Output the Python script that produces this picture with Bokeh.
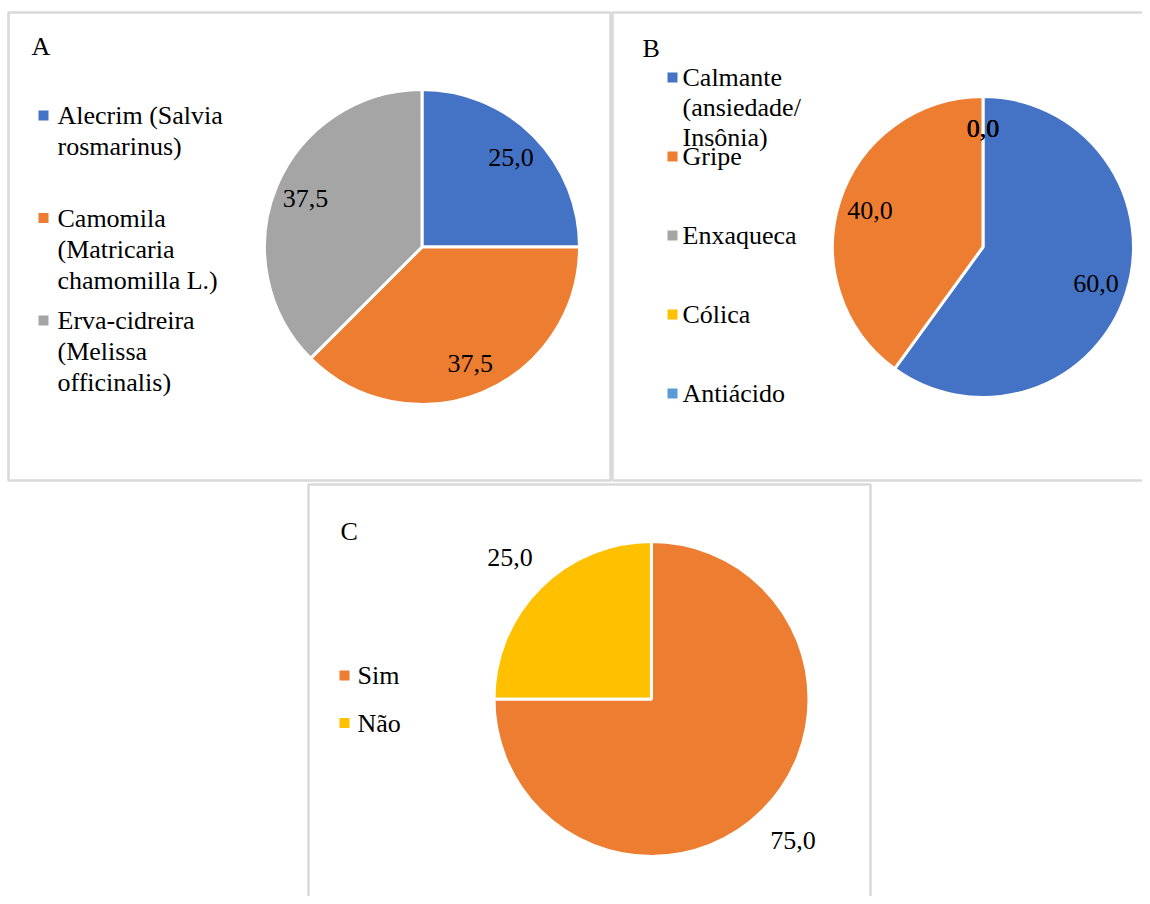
import math
from bokeh.plotting import figure
from bokeh.models import Range1d
from bokeh.embed import file_html
from bokeh.resources import INLINE
from bokeh.core.properties import value

# ---------------- data ----------------
a_categories = ["Alecrim (Salvia rosmarinus)",
                "Camomila (Matricaria chamomilla  L.)",
                "Erva-cidreira (Melissa officinalis)"]
a_legend_lines = [["Alecrim (Salvia", "rosmarinus)"],
                  ["Camomila", "(Matricaria", "chamomilla  L.)"],
                  ["Erva-cidreira", "(Melissa", "officinalis)"]]
a_values = [25.0, 37.5, 37.5]

b_categories = ["Calmante (ansiedade/ Insônia)", "Gripe", "Enxaqueca", "Cólica", "Antiácido"]
b_legend_lines = [["Calmante", "(ansiedade/", "Insônia)"], ["Gripe"], ["Enxaqueca"], ["Cólica"], ["Antiácido"]]
b_values = [60.0, 40.0, 0.0, 0.0, 0.0]

c_categories = ["Sim", "Não"]
c_legend_lines = [["Sim"], ["Não"]]
c_values = [75.0, 25.0]

BLUE, ORANGE, GRAY, YELLOW, LBLUE = "#4472C4", "#ED7D31", "#A5A5A5", "#FFC000", "#5B9BD5"
a_colors = [BLUE, ORANGE, GRAY]
b_colors = [BLUE, ORANGE, GRAY, YELLOW, LBLUE]
c_colors = [ORANGE, YELLOW]

FONT = value("Liberation Serif, Times New Roman, serif")
FS = "26px"
BORDER = "#d9d9d9"

W, H = 1142, 896
p = figure(width=W, height=H, output_backend="svg", toolbar_location=None,
           x_range=Range1d(0, W), y_range=Range1d(-H, 0),
           x_axis_type=None, y_axis_type=None, min_border=0)
p.grid.visible = False
p.outline_line_color = None
p.background_fill_color = "white"
p.border_fill_color = "white"


def Y(py):
    return -py


# ---------------- panel boxes ----------------
boxes = [(8, 610, 12, 480), (612, 1160, 12, 480), (308, 870, 484, 910)]
for l, r, t, b in boxes:
    p.quad(left=l, right=r, top=Y(t), bottom=Y(b), fill_color=None,
           line_color=BORDER, line_width=2.5)


def pie(cx, cy, r, values, colors, label_factor):
    total = sum(values)
    cum = 0.0
    xs, ys, txt = [], [], []
    for v, col in zip(values, colors):
        a0 = 90 - cum / total * 360
        a1 = 90 - (cum + v) / total * 360
        if v > 0:
            p.wedge(x=cx, y=Y(cy), radius=r,
                    start_angle=math.radians(a1), end_angle=math.radians(a0),
                    fill_color=col, line_color="white", line_width=3)
        mid = math.radians((a0 + a1) / 2)
        xs.append(cx + label_factor * r * math.cos(mid))
        ys.append(Y(cy) + label_factor * r * math.sin(mid))
        txt.append(f"{v:.1f}".replace(".", ","))
        cum += v
    p.text(x=xs, y=ys, text=txt, text_font=FONT, text_font_size=FS,
           text_color="#000000", text_align="center", text_baseline="middle")


def legend(xsq, xtxt, y0, step, lh, lines, colors):
    sx, sy, sc, tx, ty, tt = [], [], [], [], [], []
    for i, (ln, col) in enumerate(zip(lines, colors)):
        yy = y0 + i * step
        sx.append(xsq); sy.append(Y(yy)); sc.append(col)
        for k, s in enumerate(ln):
            tx.append(xtxt); ty.append(Y(yy + k * lh)); tt.append(s)
    p.rect(x=sx, y=sy, width=10, height=10, fill_color=sc, line_color=None)
    p.text(x=tx, y=ty, text=tt, text_font=FONT, text_font_size=FS,
           text_color="#000000", text_align="left", text_baseline="middle")


def title(x, y, s):
    p.text(x=[x], y=[Y(y)], text=[s], text_font=FONT, text_font_size=FS,
           text_color="#000000", text_align="left", text_baseline="middle")


# Panel A
title(31, 46, "A")
pie(421.5, 246.5, 157.5, a_values, a_colors, 0.80)
legend(43, 57, 115, 102.5, 31, a_legend_lines, a_colors)

# Panel B
title(642, 48, "B")
pie(982.5, 246.5, 150.5, b_values, b_colors, 0.79)
legend(672, 682, 77, 79, 30, b_legend_lines, b_colors)

# Panel C
title(340, 531, "C")
pie(651, 698.5, 157.5, c_values, c_colors, 1.27)
legend(344, 357, 675, 47.5, 31, c_legend_lines, c_colors)

open("out.html", "w").write(file_html(p, INLINE))
